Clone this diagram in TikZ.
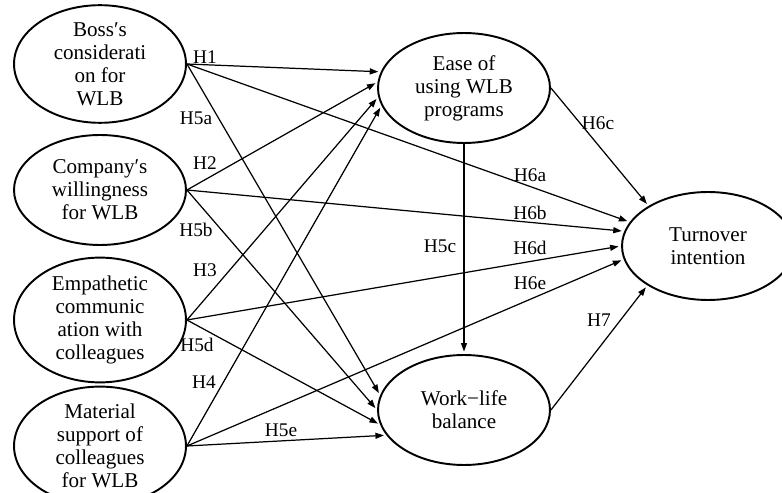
\documentclass[tikz,border=0pt]{standalone}
\usepackage{fontspec}
\setmainfont{Liberation Serif}
\usepackage{tikz}
\usetikzlibrary{arrows.meta,shapes.geometric}
\tikzset{
  hyparrow/.style={-{Triangle[length=1.7mm, width=1.2mm]}, line width=0.7pt, shorten >=0.5mm},
  construct/.style={draw, ellipse, line width=1.1pt, inner sep=0pt, minimum width=3.44cm, minimum height=2.16cm, align=center, font=\fontsize{12}{13.1}\selectfont},
  hyplabel/.style={inner sep=1pt, font=\fontsize{11}{12}\selectfont}
}
\begin{document}
\begin{tikzpicture}[x=0.02cm, y=-0.02cm]
  \useasboundingbox (0,0) rectangle (782,493);
  \node[construct] (boss) at (100,64) {Boss′s\\ considerati\\ on for\\ WLB};
  \node[construct, minimum height=2.2cm] (comp) at (100,190) {Company′s\\ willingness\\ for WLB};
  \node[construct, minimum height=2.0cm] (emp) at (100,320) {Empathetic\\ communic\\ ation with\\ colleagues};
  \node[construct, minimum height=2.0cm] (mat) at (100,446) {Material\\ support of\\ colleagues\\ for WLB};
  \node[construct, minimum height=2.2cm] (ease) at (464,88) {Ease of\\ using WLB\\ programs};
  \node[construct, minimum height=2.2cm] (wlb) at (464,410) {Work−life\\ balance};
  \node[construct, minimum height=2.16cm] (turn) at (708,246) {Turnover\\ intention};

  \draw[hyparrow] (boss.east) -- (ease.169.7);
  \draw[hyparrow] (comp.east) -- (ease.176.9);
  \draw[hyparrow] (emp.east) -- (ease.186.2);
  \draw[hyparrow] (mat.east) -- (ease.192.5);
  \draw[hyparrow] (boss.east) -- (wlb.170.8);
  \draw[hyparrow] (comp.east) -- (wlb.180);
  \draw[hyparrow] (emp.east) -- (wlb.190.1);
  \draw[hyparrow] (mat.east) -- (wlb.198.2);
  \draw[hyparrow] (boss.east) -- (turn.163.2);
  \draw[hyparrow] (comp.east) -- (turn.170.8);
  \draw[hyparrow] (emp.east) -- (turn.180.7);
  \draw[hyparrow] (mat.east) -- (turn.189.2);
  \draw[hyparrow] (ease.south) -- (wlb.north);
  \draw[hyparrow] (ease.east) -- (turn.146.9);
  \draw[hyparrow] (wlb.east) -- (turn.213.9);

  \node[hyplabel] (h1) at (205,57) {H1};
  \node[hyplabel] (h5a) at (196,118) {H5a};
  \node[hyplabel] (h2) at (205,163) {H2};
  \node[hyplabel] (h5b) at (196,230) {H5b};
  \node[hyplabel] (h3) at (205,270) {H3};
  \node[hyplabel] (h5d) at (197,345) {H5d};
  \node[hyplabel] (h4) at (204,382) {H4};
  \node[hyplabel] (h5e) at (281,430) {H5e};
  \node[hyplabel] (h5c) at (440,246) {H5c};
  \node[hyplabel] (h6c) at (598,123) {H6c};
  \node[hyplabel] (h6a) at (530,175) {H6a};
  \node[hyplabel] (h6b) at (530,213) {H6b};
  \node[hyplabel] (h6d) at (530,248) {H6d};
  \node[hyplabel] (h6e) at (530,283) {H6e};
  \node[hyplabel] (h7) at (599,320) {H7};
\end{tikzpicture}
\end{document}
